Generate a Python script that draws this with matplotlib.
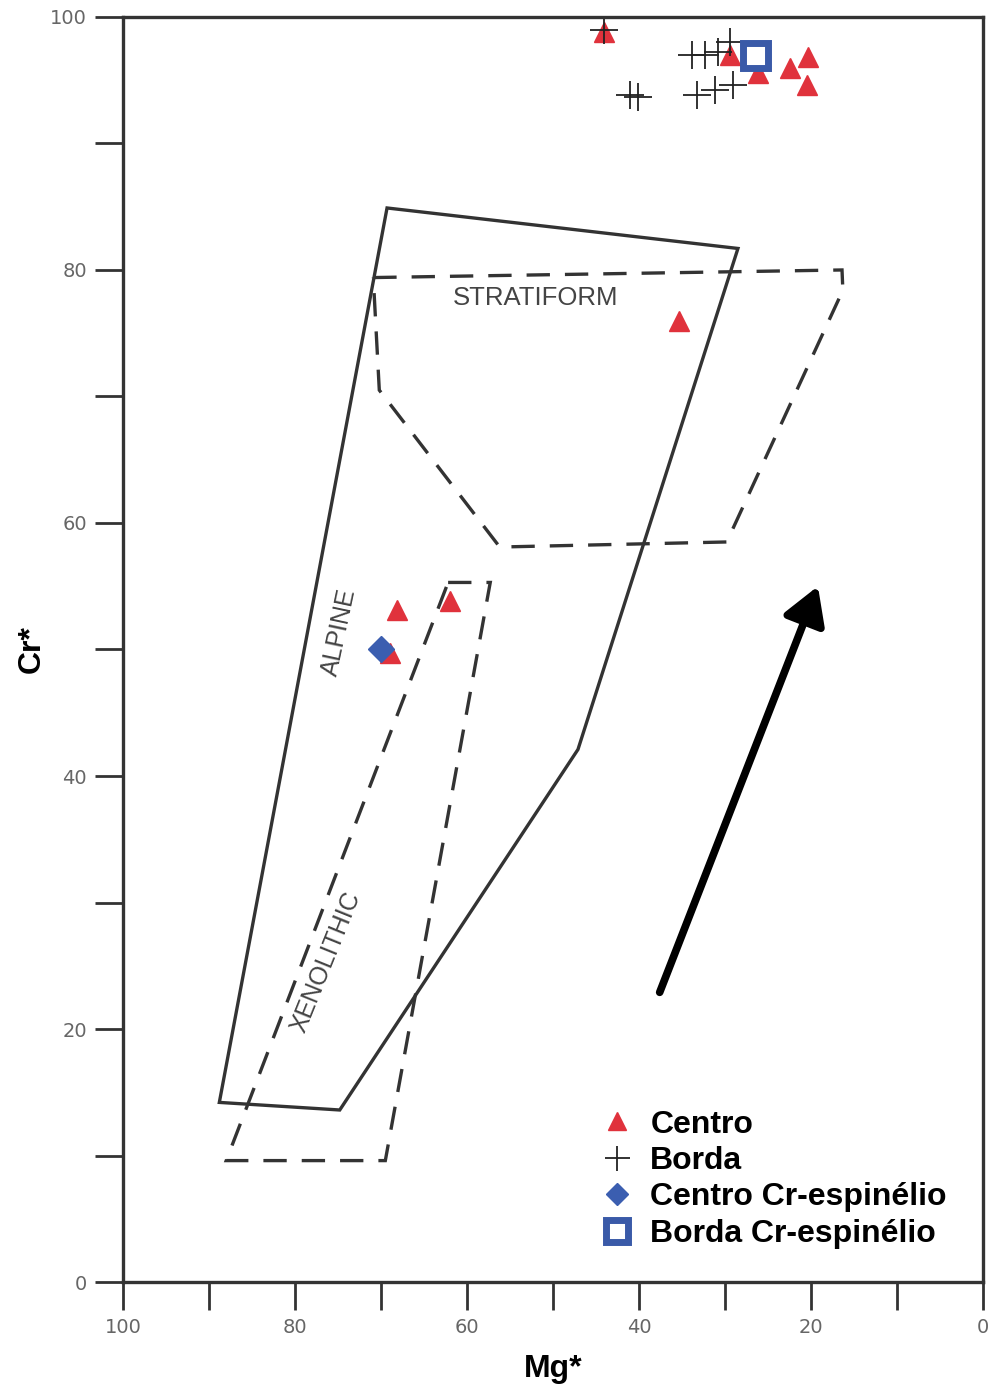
import numpy as np
import matplotlib.pyplot as plt

# Dados (Mg* x Cr*)
centro_x = [44.1, 29.4, 26.2, 22.4, 20.3, 20.5, 35.3, 68.1, 62.0, 69.0]
centro_y = [98.8, 97.0, 95.6, 96.0, 96.8, 94.6, 76.0, 53.1, 53.8, 49.7]

borda_x = [44.1, 33.8, 32.3, 30.8, 29.4, 41.0, 40.1, 33.3, 31.2, 29.1]
borda_y = [99.0, 97.0, 97.0, 97.2, 98.0, 93.8, 93.7, 93.8, 94.2, 94.6]

centro_sp_x = [70.0]
centro_sp_y = [50.0]

borda_sp_x = [26.5]
borda_sp_y = [97.0]

# Campos do diagrama
alpine_x = [69.3, 28.5, 47.1, 74.8, 88.8]
alpine_y = [84.9, 81.7, 42.1, 13.6, 14.2]

strat_x = [70.9, 16.4, 16.3, 29.8, 56.2, 70.2]
strat_y = [79.4, 80.0, 78.4, 58.5, 58.1, 70.5]

xeno_x = [62.2, 57.3, 69.5, 88.0]
xeno_y = [55.3, 55.3, 9.6, 9.6]

seta_inicio = (37.6, 22.9)
seta_fim = (19.2, 55.0)

fig = plt.figure(figsize=(9.88, 13.89), dpi=100)
ax = fig.add_axes([0.1245, 0.077, 0.8705, 0.9108])

cor_linha = '#333333'
tracejado = (0, (7, 4.5))

ax.fill(alpine_x, alpine_y, fill=False, ec=cor_linha, lw=2.4)
ax.fill(strat_x, strat_y, fill=False, ec=cor_linha, lw=2.4, ls=tracejado)
ax.fill(xeno_x, xeno_y, fill=False, ec=cor_linha, lw=2.4, ls=tracejado)

ax.text(52.0, 77.8, 'STRATIFORM', fontsize=18.5, color='#444444',
        ha='center', va='center', family='Liberation Sans')
ax.text(74.9, 51.4, 'ALPINE', fontsize=18, color='#444444', rotation=78,
        ha='center', va='center', family='Liberation Sans')
ax.text(76.4, 25.3, 'XENOLITHIC', fontsize=18, color='#444444', rotation=68,
        ha='center', va='center', family='Liberation Sans')

ax.annotate('', xy=seta_fim, xytext=seta_inicio,
            arrowprops=dict(arrowstyle='-|>,head_length=1.1,head_width=0.65',
                            mutation_scale=20, lw=5.5, color='black',
                            shrinkA=0, shrinkB=0))

ax.plot(centro_x, centro_y, '^', color='#e0323c', ms=15, ls='none', label='Centro')
ax.plot(borda_x, borda_y, '+', color='#222222', ms=20, mew=1.3, ls='none', label='Borda')
ax.plot(centro_sp_x, centro_sp_y, 'D', color='#3b5eb0', ms=13, ls='none',
        label='Centro Cr-espinélio')
ax.plot(borda_sp_x, borda_sp_y, 's', mfc='white', mec='#3a5aa8', mew=5, ms=18,
        ls='none', label='Borda Cr-espinélio')

ax.set_xlim(100, 0)
ax.set_ylim(0, 100)
ax.set_xticks(np.arange(0, 101, 20))
ax.set_yticks(np.arange(0, 101, 20))
ax.set_xticks(np.arange(10, 100, 20), minor=True)
ax.set_yticks(np.arange(10, 100, 20), minor=True)
ax.tick_params(which='both', direction='out', length=20, width=2, color=cor_linha)
ax.tick_params(which='major', labelsize=14, labelcolor='#666666', pad=6)
for s in ax.spines.values():
    s.set_color(cor_linha)
    s.set_linewidth(2.4)

ax.set_xlabel('Mg*', fontsize=23, fontweight='bold', family='Liberation Sans', labelpad=12)
ax.set_ylabel('Cr*', fontsize=23, fontweight='bold', family='Liberation Sans', labelpad=2)

leg = ax.legend(loc='upper left', bbox_to_anchor=(0.537, 0.149), frameon=False,
                prop={'family': 'Liberation Sans', 'weight': 'bold', 'size': 23},
                handletextpad=0.55, labelspacing=0.2, handlelength=1.0, borderpad=0,
                markerscale=0.9)

fig.savefig('out.png', dpi=100)
